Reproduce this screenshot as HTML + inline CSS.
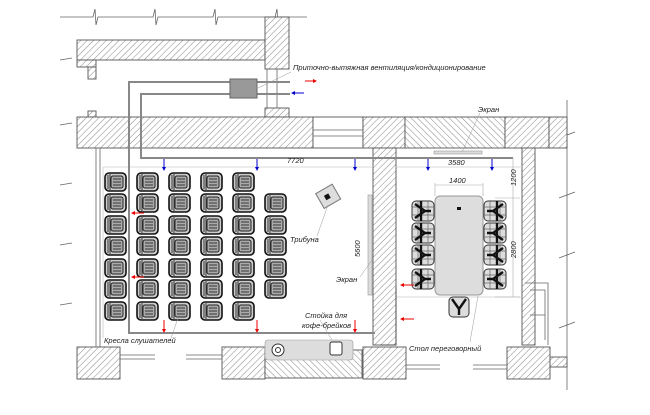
<!DOCTYPE html>
<html><head><meta charset="utf-8"><style>
body{margin:0;background:#fff}
svg{display:block;font-family:"Liberation Sans",sans-serif;font-style:italic}
text{font-size:7.5px;fill:#222}
</style></head><body>
<svg id="s" width="650" height="415" viewBox="0 0 650 415" xmlns="http://www.w3.org/2000/svg">
<defs>
<pattern id="h" width="4.5" height="4.5" patternUnits="userSpaceOnUse" patternTransform="rotate(45)"><rect width="5" height="5" fill="#fff"/><line x1="0" y1="0" x2="0" y2="5" stroke="#555" stroke-width="0.7"/></pattern>
<pattern id="h2" width="4.5" height="4.5" patternUnits="userSpaceOnUse" patternTransform="rotate(-45)"><rect width="5" height="5" fill="#fff"/><line x1="0" y1="0" x2="0" y2="5" stroke="#555" stroke-width="0.7"/></pattern>
</defs>
<g stroke="#666" stroke-width="0.8" fill="none">
<path d="M60 17 H93 l2 -8 l1 16 l2 -8 H153 l2 -8 l1 16 l2 -8 H213 l2 -8 l1 16 l2 -8 H275 l2 -8 l1 16 l2 -8 H307"/>
<path d="M567 100 V135 l8 -3 l-16 6 l8 -3 V195 l8 -3 l-16 6 l8 -3 V255 l8 -3 l-16 6 l8 -3 V325 l8 -3 l-16 6 l8 -3 V390"/>
<path d="M60 60 l12 -2 M60 125 l12 -2 M60 185 l12 -2 M60 245 l12 -2 M60 305 l12 -2"/>
</g>
<g stroke="#555" stroke-width="0.9">
<rect x="77" y="40" width="188" height="20" fill="url(#h)"/>
<rect x="77" y="60" width="19" height="7" fill="url(#h)"/>
<rect x="88" y="67" width="8" height="12" fill="url(#h)"/>
<rect x="88" y="111" width="8" height="6" fill="url(#h)"/>
<rect x="265" y="17" width="24" height="52" fill="url(#h)"/>
<rect x="265" y="108" width="24" height="9" fill="url(#h)"/>
<rect x="77" y="117" width="236" height="31" fill="url(#h)"/>
<rect x="313" y="117" width="50" height="31" fill="#fff"/>
<rect x="363" y="117" width="42" height="31" fill="url(#h)"/>
<rect x="405" y="117" width="100" height="31" fill="url(#h2)"/>
<rect x="505" y="117" width="44" height="31" fill="url(#h)"/>
<rect x="549" y="117" width="18" height="31" fill="url(#h)"/>
<rect x="373" y="148" width="23" height="197" fill="url(#h)"/>
<rect x="522" y="148" width="13" height="197" fill="url(#h)"/>
<rect x="77" y="347" width="43" height="32" fill="url(#h)"/>
<rect x="222" y="347" width="43" height="32" fill="url(#h)"/>
<rect x="265" y="350" width="97" height="28" fill="url(#h2)"/>
<rect x="363" y="347" width="43" height="32" fill="url(#h)"/>
<rect x="507" y="347" width="43" height="32" fill="url(#h)"/>
<rect x="550" y="357" width="17" height="10" fill="url(#h)"/>
</g>
<g stroke="#666" stroke-width="0.8" fill="none">
<path d="M267 69 V108 M277 69 V108 M313 130 H363 M313 136 H363 M120 355 H155 M120 359 H155 M186 355 H222 M186 359 H222 M406 365 H440 M406 369 H440 M473 365 H507 M473 369 H507 M96 148 V347 M100 148 V347 M525 283 H548 V345 M530 290 H545 V340 M530 315 H545"/>
<path d="M103 167 H373 M103 167 V338 M395 167 H522 M395 297 H522" stroke="#ccc"/>
<path d="M396 287 V345 H380" stroke="#444"/>
</g>
<g stroke="#888" stroke-width="2" fill="none">
<path d="M257 82 H129 V333 H375"/>
<path d="M257 94 H141 V158 H513"/>
<path d="M257 82 H290 M257 94 H290"/>
</g>
<rect x="230" y="79" width="27" height="19" fill="#999" stroke="#666"/>
<rect x="368" y="195" width="4" height="100" fill="#ddd" stroke="#999" stroke-width="0.6"/>
<rect x="434" y="151" width="48" height="3" fill="#ddd" stroke="#999" stroke-width="0.6"/>
<rect x="265" y="340" width="88" height="20" rx="3" fill="#ddd" stroke="#999" stroke-width="0.6"/>
<circle cx="278" cy="350" r="6" fill="#fff" stroke="#333"/><circle cx="278" cy="350" r="2.5" fill="none" stroke="#333"/>
<rect x="330" y="342" width="12" height="13" rx="2" fill="#fff" stroke="#333"/>
<g transform="rotate(-30 328 197)"><rect x="319" y="188" width="19" height="17" fill="#ddd" stroke="#777"/><rect x="325" y="194" width="5" height="5" fill="#111"/></g>
<rect x="435" y="196" width="48" height="99" rx="5" fill="#ddd" stroke="#999"/>
<rect x="457" y="207" width="4" height="3" fill="#111"/>
<path d="M435 183 V196 M483 183 V196 M435 185 H483 M513 158 V198 M513 198 V297 M495 198 H520 M495 297 H520" stroke="#aaa" stroke-width="0.6" fill="none"/>
<g id="chairs"></g>
<g id="arrows"></g>
<g stroke="#999" stroke-width="0.5" fill="none">
<path d="M291 72 L258 88 M480 113 L462 152 M317 236 L328 205 M360 277 L372 260 M170 341 L178 318 M320 320 L332 340 M470 342 L478 296"/>
</g>
<text x="293" y="70">Приточно-вытяжная вентиляция/кондиционирование</text>
<text x="478" y="112">Экран</text>
<text x="287" y="163">7720</text>
<text x="448" y="165">3580</text>
<text x="449" y="183">1400</text>
<text transform="translate(516 186) rotate(-90)">1200</text>
<text transform="translate(516 258) rotate(-90)">2800</text>
<text transform="translate(360 257) rotate(-90)">5600</text>
<text x="290" y="242">Трибуна</text>
<text x="336" y="282">Экран</text>
<text x="305" y="318">Стойка для</text>
<text x="302" y="328">кофе-брейков</text>
<text x="104" y="343">Кресла слушателей</text>
<text x="409" y="351">Стол переговорный</text>
</svg>
<script>
var g=document.getElementById('chairs'),h='';
function chair(x,y){return '<g transform="translate('+x+' '+y+')"><rect x="0" y="0" width="21" height="18" rx="4" fill="#ccc" stroke="#111" stroke-width="1.6"/><rect x="6" y="3" width="12" height="12" rx="2" fill="#aaa" stroke="#222" stroke-width="1"/><path d="M3 2 V16 M5 1 V17 M8 6 H16 M8 9 H16 M8 12 H16" stroke="#111" stroke-width="0.8"/></g>';}
var cx=[105,137,169,201,233,265],ry=[173,194,216,237,259,280,302];
for(var c=0;c<6;c++)for(var r=0;r<7;r++){if(c==5&&(r==0||r==6))continue;h+=chair(cx[c],ry[r]);}
function mc(x,y,f){return '<g transform="translate('+x+' '+y+')'+(f?' scale(-1 1)':'')+'"><rect x="-11" y="-10" width="22" height="20" rx="4" fill="#ddd" stroke="#333"/><path d="M-11 -4 H11 M-11 4 H11 M-5 -10 V10 M5 -10 V10" stroke="#666" stroke-width="0.7"/><path d="M-8 -7 L2 0 L-8 7 M2 0 H8 M-2 -10 V10" stroke="#111" stroke-width="2.4" fill="none"/></g>';}
[211,233,255,279].forEach(function(y){h+=mc(423,y,false);h+=mc(495,y,true);});
h+='<g transform="translate(459 307) rotate(90)"><rect x="-10" y="-10" width="20" height="20" rx="4" fill="#ddd" stroke="#333"/><path d="M-8 -7 L2 0 L-8 7 M2 0 H8" stroke="#111" stroke-width="2.4" fill="none"/></g>';
g.innerHTML=h;
var a='';
function dn(x,y1,y2,c){a+='<line x1="'+x+'" y1="'+y1+'" x2="'+x+'" y2="'+(y2-3)+'" stroke="'+c+'" stroke-width="1"/><path d="M'+(x-2)+' '+(y2-4)+' L'+(x+2)+' '+(y2-4)+' L'+x+' '+y2+'z" fill="'+c+'"/>';}
function hz(x1,x2,y,c){var d=x2>x1?-1:1;a+='<line x1="'+x1+'" y1="'+y+'" x2="'+(x2+3*d)+'" y2="'+y+'" stroke="'+c+'" stroke-width="1"/><path d="M'+x2+' '+y+' L'+(x2+4*d)+' '+(y-2)+' L'+(x2+4*d)+' '+(y+2)+'z" fill="'+c+'"/>';}
[164,257,355,428,492].forEach(function(x){dn(x,159,171,'#00c');});
[164,257,355].forEach(function(x){dn(x,320,333,'#e00');});
hz(305,317,81,'#e00');hz(304,291,93,'#00c');
hz(144,131,213,'#e00');hz(144,131,277,'#e00');hz(414,400,285,'#e00');hz(414,400,319,'#e00');
document.getElementById('arrows').innerHTML=a;
</script>
</body></html>
